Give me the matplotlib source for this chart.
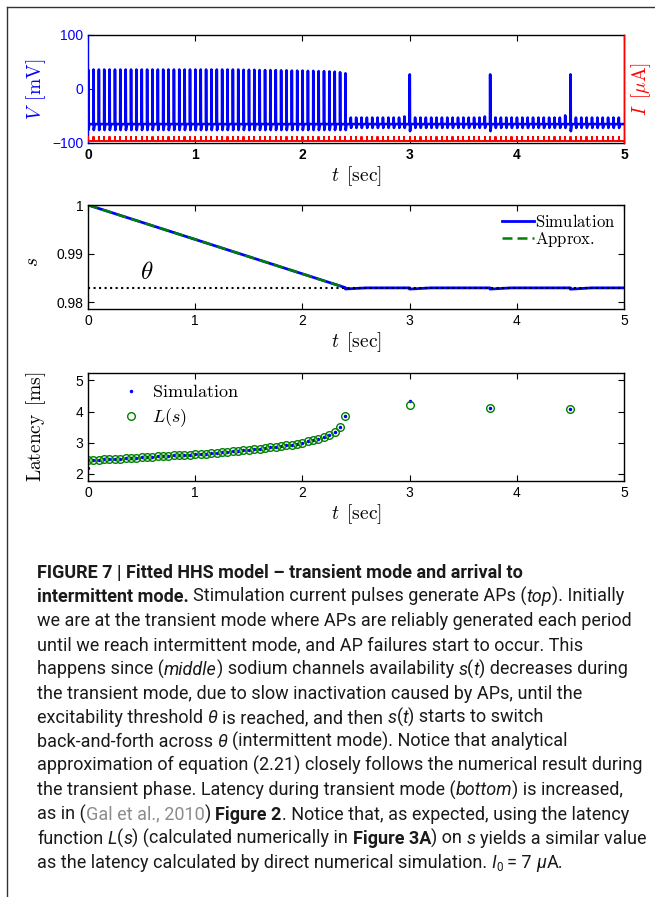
import numpy as np
import matplotlib.pyplot as plt
from matplotlib.lines import Line2D

plt.rcParams['mathtext.fontset'] = 'cm'
plt.rcParams['font.family'] = ['Liberation Sans', 'DejaVu Sans']
plt.rcParams['axes.linewidth'] = 1.0

BLUE = '#0000ff'
GREEN = '#008000'
RED = '#ff0000'

# stimulation: one 7 uA pulse every 50 ms
pulse_t = np.round(np.arange(100) * 0.05, 3)
I0 = 7.0
V_rest = -65.0

# AP peaks during the transient mode (pulses 0..48, t = 0 .. 2.40 s)
ap_peak = [36, 36, 36, 36, 36, 36, 36, 36, 36, 36,
           36, 36, 36, 36, 36, 36, 36, 36, 36, 36,
           36, 36, 36, 36, 36, 36, 36, 36, 36, 35.5,
           35.5, 35.5, 35, 35, 35, 35, 34.5, 34.5, 34, 34,
           34, 33.5, 33.5, 33, 33, 32.5, 32, 31, 29]
ap_trough = -76.0

# intermittent mode (pulses 49..99): failures, with APs at 3.0, 3.75, 4.5 s
late_peak = [-53, -53, -53, -53, -53, -53, -53, -53, -53, -53,
             -51, 27, -53, -53, -53, -53, -53, -53, -53, -53,
             -53, -53, -53, -53, -53, -51, 27, -53, -53, -53,
             -53, -53, -53, -53, -53, -53, -53, -53, -53, -53,
             -49, 27, -53, -53, -53, -53, -53, -53, -53, -53,
             -53]
late_trough = [-72 if p < 0 else -78 for p in late_peak]

# sodium channel availability
theta = 0.9830
sim_t = [0.00, 2.40, 2.40, 2.60, 3.00, 3.00, 3.20, 3.75, 3.75, 3.95, 4.50, 4.50, 4.70, 5.00]
sim_s = [1.0, 0.9830, 0.98272, 0.98295, 0.98295, 0.98270, 0.98295, 0.98295, 0.98270,
         0.98295, 0.98295, 0.98268, 0.98295, 0.98295]
approx_t = [0.0, 2.40]
approx_s = [1.0, 0.9830]

# latency of each AP
lat_L = [2.44, 2.45, 2.46, 2.47, 2.48, 2.48, 2.49, 2.50, 2.51, 2.52,
         2.53, 2.54, 2.55, 2.56, 2.57, 2.58, 2.59, 2.60, 2.61, 2.62,
         2.63, 2.64, 2.65, 2.66, 2.68, 2.69, 2.70, 2.72, 2.73, 2.75,
         2.77, 2.79, 2.81, 2.83, 2.85, 2.87, 2.89, 2.92, 2.94, 2.97,
         2.99, 3.04, 3.09, 3.13, 3.19, 3.26, 3.34, 3.49, 3.87,
         4.22, 4.13, 4.09]
lat_sim = list(lat_L)
lat_sim[0] = 2.19
lat_sim[49] = 4.35

# ---- build the voltage and current traces from the pulse list
peaks = list(ap_peak) + late_peak
troughs = [ap_trough] * len(ap_peak) + late_trough
tv, vv = [], []
for tk, p, q in zip(pulse_t, peaks, troughs):
    tv += [tk, tk + 0.0015, tk + 0.004, tk + 0.012]
    vv += [V_rest, p, q, V_rest]
tv.append(5.0)
vv.append(V_rest)

ti, ii = [0.0], [0.0]
for tk in pulse_t:
    ti += [tk, tk, tk + 0.002, tk + 0.002]
    ii += [0, I0, I0, 0]
ti.append(5.0)
ii.append(0.0)

ap_idx = list(range(len(ap_peak))) + [i + len(ap_peak) for i, p in enumerate(late_peak) if p > 0]
lat_t = pulse_t[ap_idx]

fig = plt.figure(figsize=(6.55, 8.97), dpi=100)
W, H = 655.0, 897.0


def axes_px(left, top, right, bottom):
    return fig.add_axes([left / W, 1 - bottom / H, (right - left) / W, (bottom - top) / H])


xlab = r'$t\ \,[\mathrm{sec}]$'

# ---- top: membrane voltage and stimulation current
ax = axes_px(88, 35, 624, 143)
ax.plot(tv, vv, color=BLUE, lw=1.9)
ax.set_xlim(0, 5)
ax.set_ylim(-100, 100)
ax.set_yticks([-100, 0, 100])
ax.set_xticks(range(6))
ax.tick_params(direction='in', top=True, right=True, length=4, labelsize=10)
ax.tick_params(axis='y', colors=BLUE)
for lbl in ax.get_xticklabels():
    lbl.set_fontweight('bold')
ax.spines['left'].set_color(BLUE)
ax.set_ylabel(r'$V\ \,[\mathrm{mV}]$', color=BLUE, fontsize=14)
ax.yaxis.set_label_coords(-0.075, 0.5)
ax.set_xlabel(xlab, fontsize=14, labelpad=2)

ax2 = ax.twinx()
ax2.plot(ti, ii, color=RED, lw=1.4)
ax2.set_ylim(-3, 190)
ax2.set_yticks([])
for side in ['left', 'top', 'bottom']:
    ax2.spines[side].set_visible(False)
ax2.spines['right'].set_color(RED)
ax2.set_ylabel(r'$I\ \,[\mu\mathrm{A}]$', color=RED, fontsize=14, rotation=90)
ax2.yaxis.set_label_coords(1.01, 0.5)

# ---- middle: availability s(t)
axs = axes_px(88, 205, 624, 309)
axs.plot(sim_t, sim_s, color=BLUE, lw=2.0, label=r'$\mathrm{Simulation}$')
axs.plot(approx_t, approx_s, color=GREEN, lw=1.8, ls='--', dashes=(4, 2),
         label=r'$\mathrm{Approx.}$')
axs.axhline(theta, color='k', ls=':', lw=1.5)
axs.text(0.55, 0.9862, r'$\theta$', fontsize=18, ha='center', va='center')
axs.set_xlim(0, 5)
axs.set_ylim(0.9786, 1.0)
axs.set_yticks([0.98, 0.99, 1.0])
axs.set_yticklabels(['0.98', '0.99', '1'])
axs.set_xticks(range(6))
axs.tick_params(direction='in', top=True, right=True, length=4, labelsize=10)
axs.set_ylabel(r'$s$', fontsize=14)
axs.yaxis.set_label_coords(-0.085, 0.45)
axs.set_xlabel(xlab, fontsize=14, labelpad=2)
axs.legend(loc='upper right', frameon=False, fontsize=12, handlelength=1.9,
           handletextpad=0.1, labelspacing=0.0, borderaxespad=0.1)

# ---- bottom: latency
axl = axes_px(88, 373, 624, 481)
axl.plot(lat_t, lat_sim, '.', color=BLUE, ms=3, label=r'$\mathrm{Simulation}$')
axl.plot(lat_t, lat_L, 'o', mfc='none', mec=GREEN, mew=1.0, ms=5.5, label=r'$L(s)$')
axl.set_xlim(0, 5)
axl.set_ylim(1.77, 5.24)
axl.set_yticks([2, 3, 4, 5])
axl.set_xticks(range(6))
axl.tick_params(direction='in', top=True, right=True, length=4, labelsize=10)
axl.set_ylabel(r'$\mathrm{Latency}\ \,[\mathrm{ms}]$', fontsize=14)
axl.yaxis.set_label_coords(-0.075, 0.5)
axl.set_xlabel(xlab, fontsize=14, labelpad=2)
axl.legend(loc='upper left', frameon=False, fontsize=13, handlelength=1.5,
           handletextpad=0.4, labelspacing=0.3, borderaxespad=0.2,
           bbox_to_anchor=(0.035, 1.0))

# ---- frame
fig.add_artist(Line2D([7 / W, 7 / W], [0, 1 - 7 / H], color='#333333', lw=1))
fig.add_artist(Line2D([7 / W, 1], [1 - 7 / H, 1 - 7 / H], color='#333333', lw=1))

# ---- caption
TXT = '#1a1a1a'
styles = {
    'r': dict(family='Roboto', weight='normal', style='normal', color=TXT),
    'b': dict(family='Roboto', weight='bold', style='normal', color=TXT),
    'i': dict(family='Roboto', weight='normal', style='italic', color=TXT),
    'g': dict(family='Roboto', weight='normal', style='normal', color='#8c8c8c'),
}

caption = [
    [('FIGURE 7 | Fitted HHS model – transient mode and arrival to', 'b')],
    [('intermittent mode.', 'b'), (' Stimulation current pulses generate APs (', 'r'),
     ('top', 'i'), ('). Initially', 'r')],
    [('we are at the transient mode where APs are reliably generated each period', 'r')],
    [('until we reach intermittent mode, and AP failures start to occur. This', 'r')],
    [('happens since (', 'r'), ('middle', 'i'), (') sodium channels availability ', 'r'),
     ('s', 'i'), ('(', 'r'), ('t', 'i'), (') decreases during', 'r')],
    [('the transient mode, due to slow inactivation caused by APs, until the', 'r')],
    [('excitability threshold ', 'r'), ('θ', 'i'), (' is reached, and then ', 'r'),
     ('s', 'i'), ('(', 'r'), ('t', 'i'), (') starts to switch', 'r')],
    [('back-and-forth across ', 'r'), ('θ', 'i'), (' (intermittent mode). Notice that analytical', 'r')],
    [('approximation of equation (2.21) closely follows the numerical result during', 'r')],
    [('the transient phase. Latency during transient mode (', 'r'), ('bottom', 'i'),
     (') is increased,', 'r')],
    [('as in (', 'r'), ('Gal et al., 2010', 'g'), (') ', 'r'), ('Figure 2', 'b'),
     ('. Notice that, as expected, using the latency', 'r')],
    [('function ', 'r'), ('L', 'i'), ('(', 'r'), ('s', 'i'), (') (calculated numerically in ', 'r'),
     ('Figure 3A', 'b'), (') on ', 'r'), ('s', 'i'), (' yields a similar value', 'r')],
    [('as the latency calculated by direct numerical simulation. ', 'r'), ('I', 'i'),
     ('0', 'sub'), (' = 7 ', 'r'), ('μ', 'i'), ('A.', 'r')],
]
# lines that run the whole width of the text block
full_lines = [1, 2, 4, 8, 9, 10, 11]

renderer = fig.canvas.get_renderer()


def text_width(s, size, st):
    t = fig.text(0, 0, s, fontsize=size, **st)
    w = t.get_window_extent(renderer=renderer).width
    t.remove()
    return w


def piece_width(s, size, st):
    # matplotlib drops surrounding blanks from the ink box, so add them back
    sp = text_width('x x', size, st) - text_width('xx', size, st)
    if not s.strip():
        return sp * len(s)
    lead = len(s) - len(s.lstrip(' '))
    trail = len(s) - len(s.rstrip(' '))
    return text_width(s.strip(), size, st) + sp * (lead + trail)


def piece_style(kind, size):
    if kind == 'sub':
        return styles['r'], size * 0.65, 3.0
    return styles[kind], size, 0.0


def line_width(line, size):
    total = 0.0
    for s, kind in line:
        st, sz, _ = piece_style(kind, size)
        total += piece_width(s, sz, st)
    return total


# size the text so that the full-width lines fit the caption block
cap_left, cap_right = 37.0, 642.0
size = min(12.0 * (cap_right - cap_left) / line_width(caption[i], 12.0) for i in full_lines)

y0 = 578.0
for n, line in enumerate(caption):
    x = cap_left
    y = y0 + n * 24.15
    for s, kind in line:
        st, sz, dy = piece_style(kind, size)
        lead = len(s) - len(s.lstrip(' '))
        sp = piece_width(' ', sz, st)
        fig.text((x + lead * sp) / W, 1 - (y + dy) / H, s.strip(), fontsize=sz,
                 ha='left', va='baseline', **st)
        x += piece_width(s, sz, st)

fig.savefig('out.png', dpi=100)
